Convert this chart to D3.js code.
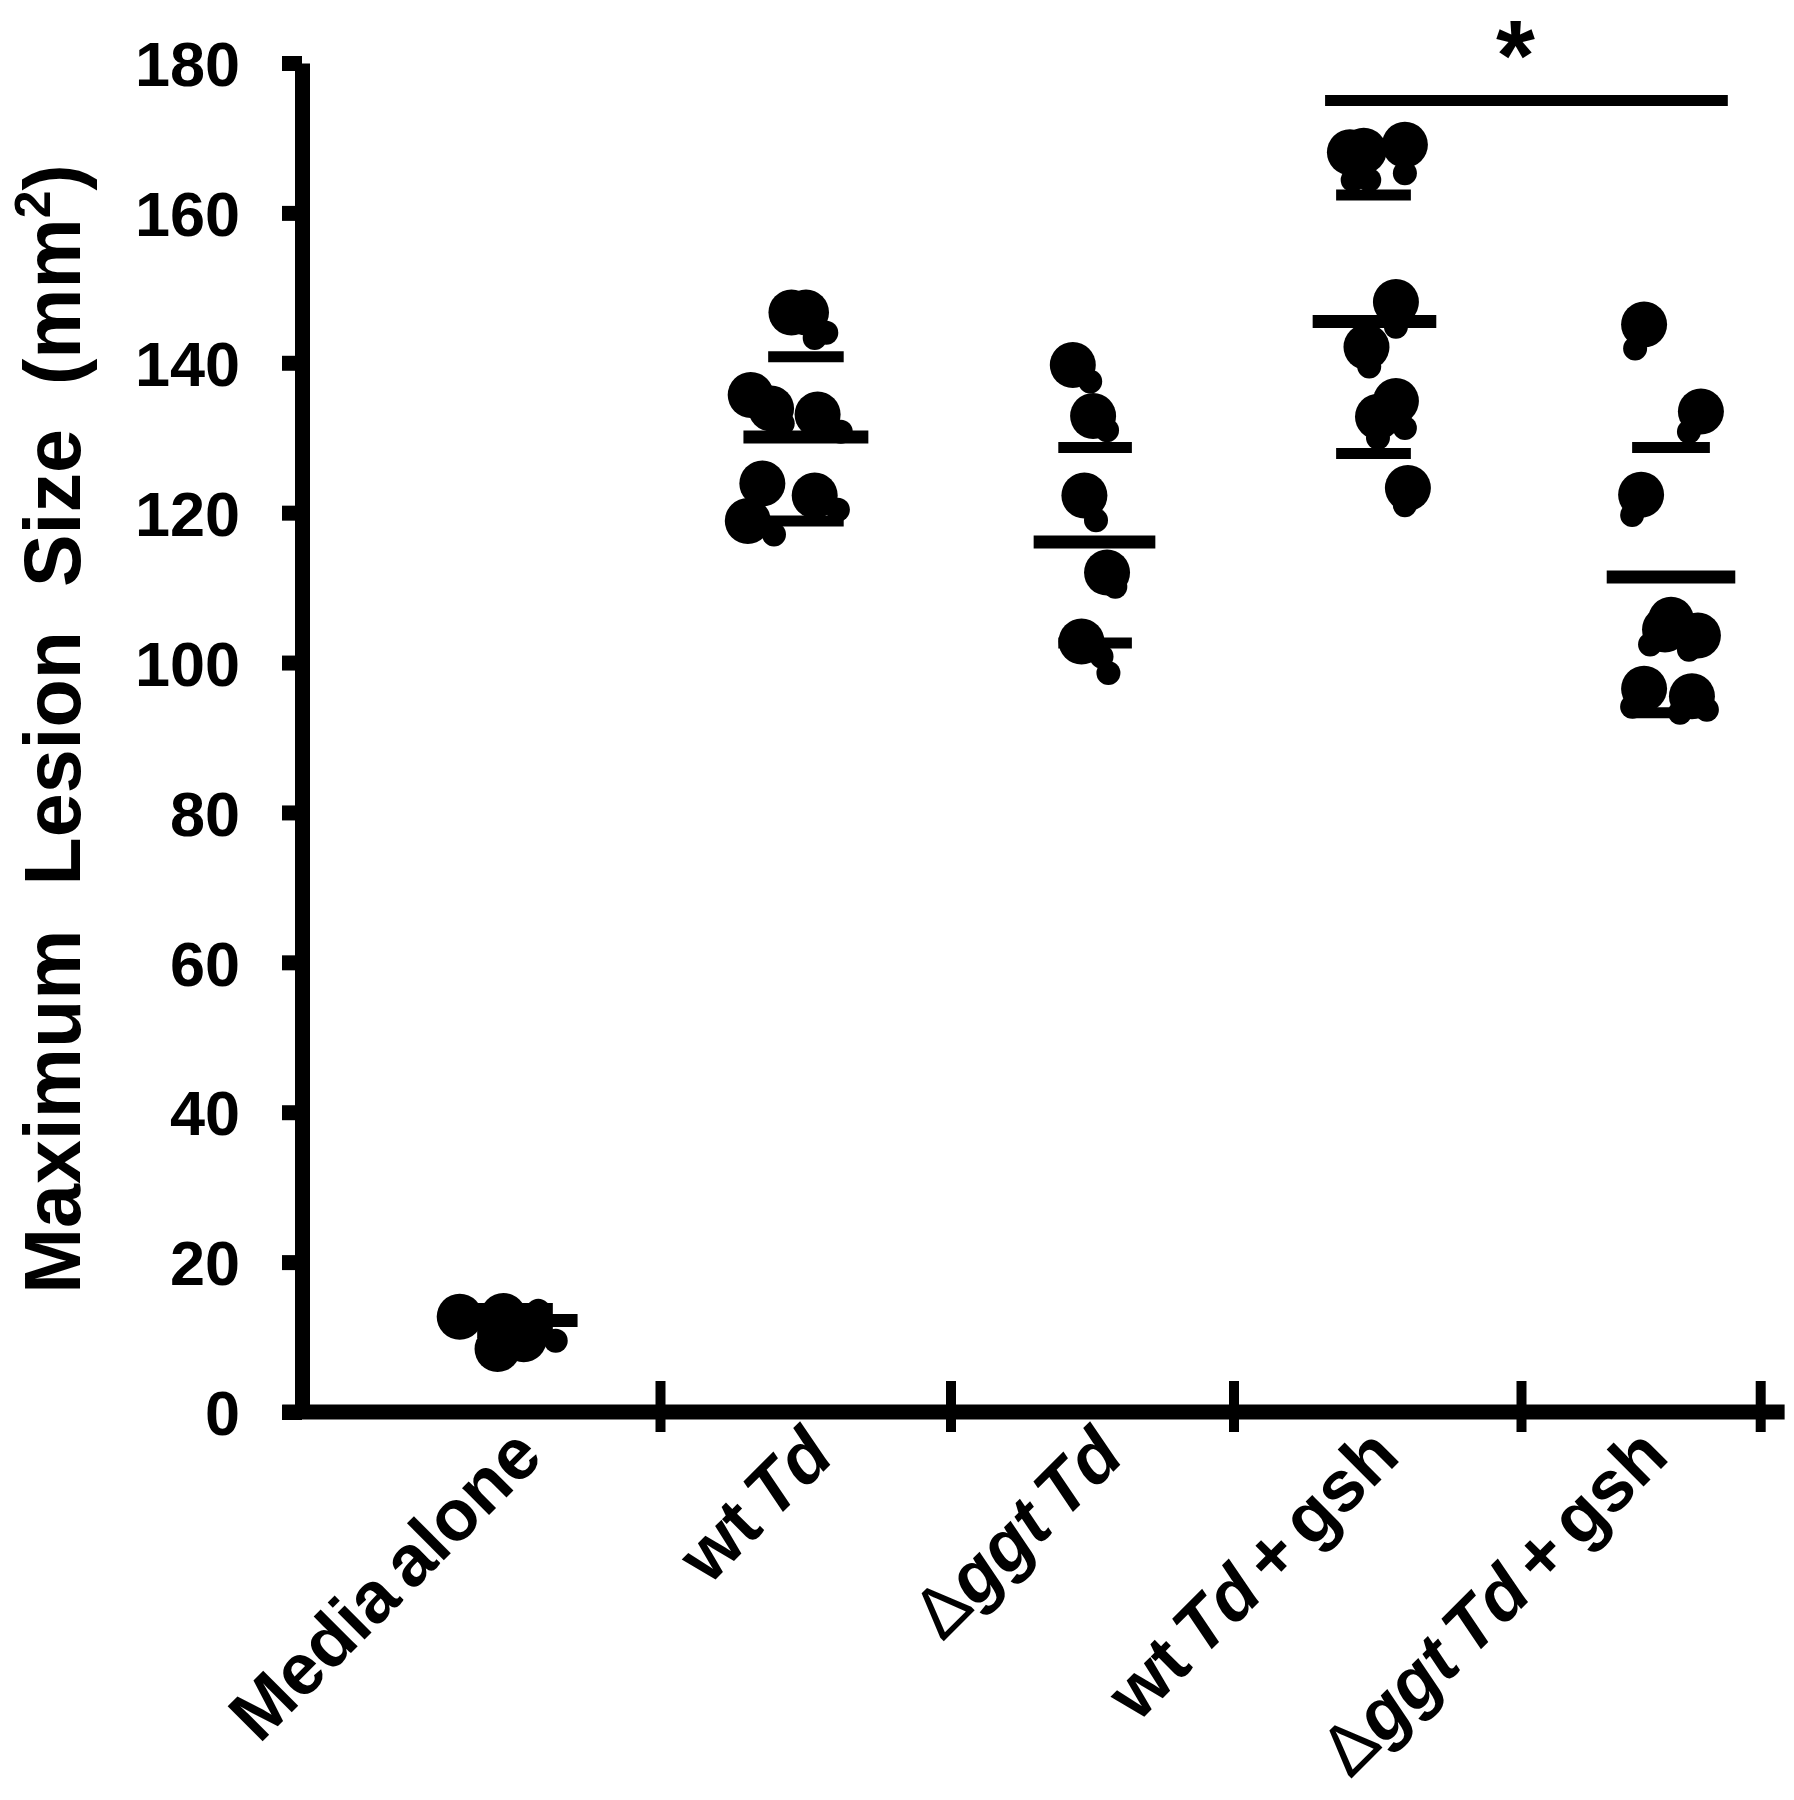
<!DOCTYPE html>
<html>
<head>
<meta charset="utf-8">
<script src="https://cdn.jsdelivr.net/npm/d3@7"></script>
<style>
  body { margin: 0; background: #fff; }
  text { font-family: "Liberation Sans", Arial, sans-serif; font-weight: bold; fill: #000; }
</style>
</head>
<body>
<div id="chart"></div>
<script>
const W = 1794, H = 1800;

// groups on the x axis
const categories = ["Media alone", "wt Td", "\u0394ggt Td", "wt Td + gsh", "\u0394ggt Td + gsh"];
const italicWords = ["Td", "ggt"];
const yTicks = [0, 20, 40, 60, 80, 100, 120, 140, 160, 180];
const xTickPos = [0.5, 1.5, 2.5, 3.5, 4.3];

// mean and mean +/- SD for each group
const groupMean = [12.2, 130.1, 116.1, 145.5, 111.4];
const groupUpper = [13.8, 140.8, 128.7, 162.4, 128.7];
const groupLower = [10.6, 118.9, 102.6, 127.9, 93.3];

// individual animals: [offset inside group, lesion size]
const bigDots = [
  [[-0.19, 12.7], [-0.04, 12.8], [-0.06, 8.4], [0.03, 9.7]],
  [[-0.19, 135.7], [-0.12, 133.9], [0.04, 133.1], [-0.05, 146.7], [0.0, 146.7],
   [-0.15, 123.9], [0.03, 122.3], [-0.2, 118.9]],
  [[-0.08, 139.7], [-0.01, 132.9], [-0.04, 122.3], [0.04, 112.0], [-0.05, 102.8]],
  [[-0.08, 168.1], [-0.03, 168.3], [0.11, 169.1], [0.08, 148.1], [-0.02, 142.1],
   [0.08, 134.9], [0.02, 132.8], [0.12, 123.3]],
  [[-0.09, 145.1], [0.1, 133.5], [-0.1, 122.4], [0.0, 105.7], [0.09, 103.6],
   [-0.02, 104.4], [-0.09, 96.5], [0.07, 95.5]]
];
const smallDots = [
  [[0.08, 13.5], [0.14, 9.5], [-0.05, 8.0]],
  [[0.07, 144.0], [0.03, 143.3], [0.12, 130.8], [-0.11, 117.1], [0.11, 120.4], [-0.08, 131.9]],
  [[-0.02, 137.5], [0.04, 131.0], [0.0, 119.0], [0.07, 110.1], [0.02, 100.8], [0.045, 98.6]],
  [[-0.07, 164.4], [-0.01, 164.4], [0.11, 165.3], [0.08, 144.8], [-0.01, 139.5],
   [0.02, 130.0], [0.11, 131.3], [0.11, 121.0]],
  [[-0.12, 141.9], [0.06, 130.8], [-0.13, 119.7], [-0.07, 102.4], [0.06, 101.7],
   [-0.13, 94.1], [0.03, 93.3], [0.12, 93.7]]
];

// significance bar between groups 3 and 4
const sigFrom = 3, sigTo = 4, sigLevel = 175;

const svg = d3.select("#chart").append("svg")
  .attr("width", W)
  .attr("height", H);

const x = d3.scaleLinear()
  .domain([0, 1, 2, 3, 4])
  .range([515, 806, 1096, 1372, 1671]);
const y = d3.scaleLinear()
  .domain([0, 180])
  .range([1412, 63]);
const y0 = y(0);

// x axis line and ticks
svg.append("line")
  .attr("x1", x(-0.8)).attr("x2", x(4.38))
  .attr("y1", y0).attr("y2", y0)
  .attr("stroke", "#000").attr("stroke-width", 15);
svg.append("g").selectAll("line")
  .data(xTickPos)
  .enter().append("line")
  .attr("x1", d => x(d)).attr("x2", d => x(d))
  .attr("y1", y0 - 31).attr("y2", y0 + 20)
  .attr("stroke", "#000").attr("stroke-width", 10);

// y axis
const yAxis = svg.append("g")
  .attr("transform", "translate(302,0)")
  .call(d3.axisLeft(y).tickValues(yTicks).tickSizeInner(20).tickSizeOuter(0).tickPadding(42));
yAxis.select(".domain").attr("stroke-width", 15);
yAxis.selectAll(".tick line").attr("stroke-width", 15);
yAxis.selectAll(".tick text")
  .style("font-size", "63px")
  .style("font-family", "'Liberation Sans', Arial, sans-serif")
  .style("font-weight", "bold")
  .attr("dy", "0.36em");

// y title
const yTitle = svg.append("text")
  .attr("transform", "translate(80," + 729 + ") rotate(-90)")
  .attr("text-anchor", "middle")
  .style("font-size", "79px");
yTitle.append("tspan").text("Maximum\u00a0\u00a0Lesion\u00a0\u00a0Size\u00a0\u00a0(mm");
yTitle.append("tspan").text("2").style("font-size", "50px").attr("dy", -30);
yTitle.append("tspan").text(")").attr("dy", 30);

// category labels
const bounds = [-0.5].concat(xTickPos);
categories.forEach((c, i) => {
  const mid = (bounds[i] + bounds[i + 1]) / 2;
  const t = svg.append("text")
    .attr("transform", "translate(" + (x(mid) + 30) + "," + (y0 + 47) + ") rotate(-45)")
    .attr("text-anchor", "end")
    .style("font-size", "72px")
    .style("word-spacing", "-8px");
  c.split(" ").forEach((word, k) => {
    const pre = k > 0 ? " " : "";
    if (word.startsWith("\u0394")) {
      t.append("tspan").text(pre + "\u0394").style("font-weight", "normal");
      word = word.slice(1);
      t.append("tspan").text(word).style("font-style", italicWords.includes(word) ? "italic" : "normal");
    } else {
      t.append("tspan").text(pre + word).style("font-style", italicWords.includes(word) ? "italic" : "normal");
    }
  });
});

// dots
const flat = (arr) => arr.flatMap((g, i) => g.map(d => ({ g: i, dx: d[0], v: d[1] })));
svg.append("g").selectAll("circle")
  .data(flat(bigDots))
  .enter().append("circle")
  .attr("cx", d => x(d.g + d.dx))
  .attr("cy", d => y(d.v))
  .attr("r", 23)
  .attr("fill", "#000");
svg.append("g").selectAll("circle")
  .data(flat(smallDots))
  .enter().append("circle")
  .attr("cx", d => x(d.g + d.dx))
  .attr("cy", d => y(d.v))
  .attr("r", 12)
  .attr("fill", "#000");

// mean and SD bars
const bar = (vals, half, sw) => svg.append("g").selectAll("line")
  .data(vals)
  .enter().append("line")
  .attr("x1", (d, i) => x(i - half))
  .attr("x2", (d, i) => x(i + half))
  .attr("y1", d => y(d)).attr("y2", d => y(d))
  .attr("stroke", "#000").attr("stroke-width", sw);
bar(groupMean, 0.215, 13);
bar(groupUpper, 0.13, 11);
bar(groupLower, 0.13, 11);

// significance
svg.append("line")
  .attr("x1", x(sigFrom - 0.17)).attr("x2", x(sigTo + 0.19))
  .attr("y1", y(sigLevel)).attr("y2", y(sigLevel))
  .attr("stroke", "#000").attr("stroke-width", 11);
svg.append("text")
  .attr("x", x(3.48))
  .attr("y", y(sigLevel) - 10)
  .attr("text-anchor", "middle")
  .style("font-size", "100px")
  .text("*");
</script>
</body>
</html>
